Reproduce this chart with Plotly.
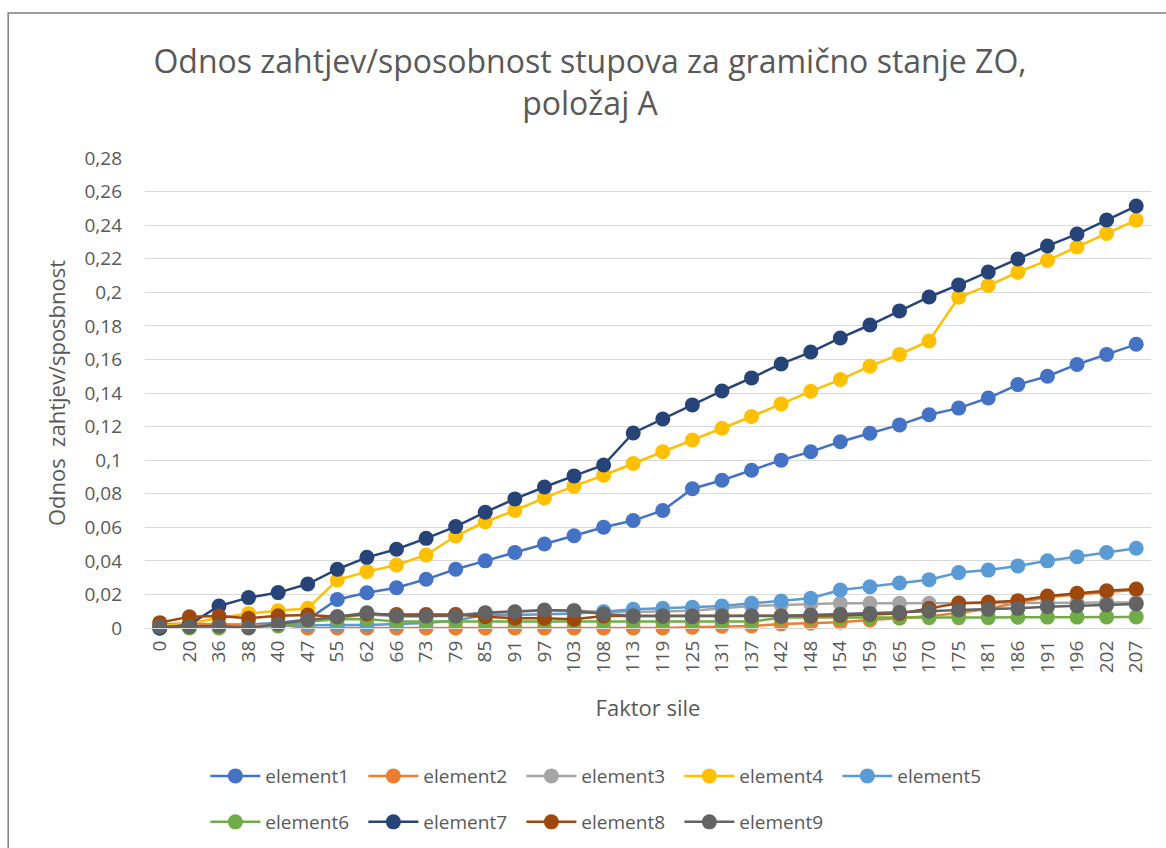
import plotly.graph_objects as go

# Force factor categories (x axis)
faktor_sile = [0, 20, 36, 38, 40, 47, 55, 62, 66, 73, 79, 85, 91, 97, 103, 108, 113,
               119, 125, 131, 137, 142, 148, 154, 159, 165, 170, 175, 181, 186, 191,
               196, 202, 207]

# Demand/capacity ratio per column element
element1 = [0.000, 0.001, 0.002, 0.002, 0.003, 0.005, 0.017, 0.021, 0.024, 0.029, 0.035,
            0.040, 0.045, 0.050, 0.055, 0.060, 0.064, 0.070, 0.083, 0.088, 0.094, 0.100,
            0.105, 0.111, 0.116, 0.121, 0.127, 0.131, 0.137, 0.145, 0.150, 0.157, 0.163,
            0.169]
element2 = [0.002, 0.003, 0.002, 0.002, 0.002, 0.000, 0.000, 0.000, 0.000, 0.000, 0.000,
            0.000, 0.000, 0.000, 0.000, 0.000, 0.000, 0.000, 0.0005, 0.001, 0.0012, 0.0024,
            0.0028, 0.0035, 0.0048, 0.006, 0.007, 0.009, 0.0115, 0.015, 0.0185, 0.020,
            0.0215, 0.0228]
element3 = [0.000, 0.001, 0.001, 0.001, 0.002, 0.004, 0.006, 0.008, 0.007, 0.007, 0.008,
            0.009, 0.0095, 0.0105, 0.0105, 0.0095, 0.0095, 0.0098, 0.0103, 0.0117, 0.0131,
            0.0137, 0.0143, 0.0147, 0.0147, 0.0147, 0.0147, 0.015, 0.015, 0.015, 0.015,
            0.015, 0.0152, 0.0152]
element4 = [0.001, 0.003, 0.006, 0.0087, 0.0103, 0.0117, 0.0286, 0.0336, 0.0375, 0.0435,
            0.0548, 0.0633, 0.070, 0.0775, 0.0845, 0.091, 0.098, 0.105, 0.112, 0.119,
            0.126, 0.1335, 0.141, 0.148, 0.156, 0.163, 0.171, 0.197, 0.204, 0.212, 0.219,
            0.227, 0.235, 0.243]
element5 = [0.000, 0.001, 0.001, 0.001, 0.0015, 0.0018, 0.0018, 0.0018, 0.0025, 0.003,
            0.0045, 0.0077, 0.0077, 0.008, 0.0087, 0.0097, 0.0111, 0.0117, 0.0123, 0.0131,
            0.0147, 0.0161, 0.0177, 0.0226, 0.0246, 0.0268, 0.0288, 0.033, 0.0345, 0.037,
            0.040, 0.0425, 0.045, 0.0475]
element6 = [0.000, 0.000, 0.000, 0.0005, 0.0012, 0.0038, 0.0052, 0.0054, 0.0038, 0.0038,
            0.0038, 0.0038, 0.0038, 0.0038, 0.0038, 0.0038, 0.0038, 0.0038, 0.0038, 0.0038,
            0.0038, 0.0062, 0.0062, 0.0058, 0.006, 0.006, 0.0062, 0.0062, 0.0062, 0.0064,
            0.0065, 0.0065, 0.0066, 0.0066]
element7 = [0.000, 0.002, 0.0131, 0.0181, 0.0211, 0.0262, 0.035, 0.0421, 0.0469, 0.0534,
            0.0604, 0.069, 0.0769, 0.084, 0.0906, 0.0971, 0.1162, 0.1245, 0.1329, 0.1412,
            0.149, 0.1573, 0.1644, 0.1728, 0.1805, 0.1889, 0.1972, 0.2044, 0.2121, 0.2198,
            0.2276, 0.2347, 0.2431, 0.2514]
element8 = [0.0032, 0.0067, 0.0071, 0.0058, 0.0073, 0.0077, 0.0067, 0.0083, 0.0080, 0.0080,
            0.0080, 0.0067, 0.0058, 0.0058, 0.0052, 0.0071, 0.0071, 0.0071, 0.0071, 0.0071,
            0.0071, 0.0071, 0.0071, 0.0075, 0.0080, 0.0087, 0.0117, 0.0147, 0.0153, 0.0163,
            0.019, 0.0207, 0.0222, 0.0232]
element9 = [0.0008, 0.0008, 0.0012, 0.000, 0.0024, 0.0048, 0.0067, 0.0091, 0.0071, 0.0071,
            0.0071, 0.0091, 0.0097, 0.0107, 0.0103, 0.0083, 0.0071, 0.0071, 0.0067, 0.0067,
            0.0071, 0.0071, 0.0077, 0.0082, 0.0087, 0.0093, 0.0100, 0.0107, 0.0111, 0.0117,
            0.0127, 0.0131, 0.0137, 0.0143]

series_names = ["element1", "element2", "element3", "element4", "element5",
                "element6", "element7", "element8", "element9"]
series_values = [element1, element2, element3, element4, element5,
                 element6, element7, element8, element9]
series_colors = ["#4472C4", "#ED7D31", "#A5A5A5", "#FFC000", "#5B9BD5",
                 "#70AD47", "#264478", "#9E480E", "#636363"]

FONT = "Open Sans"
TEXT = "#595959"
x_labels = [str(v) for v in faktor_sile]

fig = go.Figure()
for i, (name, vals, col) in enumerate(zip(series_names, series_values, series_colors)):
    fig.add_trace(go.Scatter(
        x=x_labels, y=vals, name=name, mode="lines+markers",
        line=dict(color=col, width=2.5),
        marker=dict(color=col, size=15, line=dict(width=0)),
        cliponaxis=False,
        legend="legend" if i < 5 else "legend2",
    ))

legend_common = dict(
    orientation="h", xanchor="left", yanchor="middle",
    font=dict(family=FONT, size=19, color=TEXT),
    bgcolor="rgba(0,0,0,0)", borderwidth=0,
    entrywidth=93, entrywidthmode="pixels", itemwidth=50,
    tracegroupgap=0,
)

fig.update_layout(
    width=1166, height=848,
    margin=dict(l=145, r=15, t=158, b=220, autoexpand=False),
    paper_bgcolor="white", plot_bgcolor="white",
    separators=", ",
    font=dict(family=FONT, color=TEXT),
    title=dict(
        text="Odnos zahtjev/sposobnost stupova za gramično stanje ZO,<br>položaj A",
        x=0.506, xanchor="center", xref="container",
        y=0.914, yanchor="top", yref="container",
        font=dict(family=FONT, size=32, color=TEXT),
    ),
    xaxis=dict(
        type="category", range=[-0.5, len(faktor_sile) - 0.5],
        tickangle=-90, tickfont=dict(family=FONT, size=19, color=TEXT),
        showgrid=False, showline=True, linecolor="#D9D9D9", linewidth=1.3,
        ticks="", ticklabelstandoff=4, automargin=False,
        title=dict(text="Faktor sile", font=dict(family=FONT, size=22, color=TEXT),
                   standoff=28),
    ),
    yaxis=dict(
        range=[0, 0.28], dtick=0.02, tick0=0,
        tickfont=dict(family=FONT, size=19, color=TEXT),
        showgrid=True, gridcolor="#D9D9D9", gridwidth=1.3,
        zeroline=False, showline=False, ticks="", ticklabelstandoff=22,
        automargin=False,
        title=dict(text="Odnos  zahtjev/sposbnost",
                   font=dict(family=FONT, size=22, color=TEXT), standoff=12),
    ),
    legend=dict(x=0.06, y=-0.315, **legend_common),
    legend2=dict(x=0.06, y=-0.4128, **legend_common),
    showlegend=True,
    shapes=[dict(type="rect", xref="paper", yref="paper",
                 x0=-0.136, x1=1.03, y0=-0.5, y1=1.3085,
                 line=dict(color="#7F7F7F", width=1.5), fillcolor="rgba(0,0,0,0)",
                 layer="below")],
)

fig.write_html("out.html")
